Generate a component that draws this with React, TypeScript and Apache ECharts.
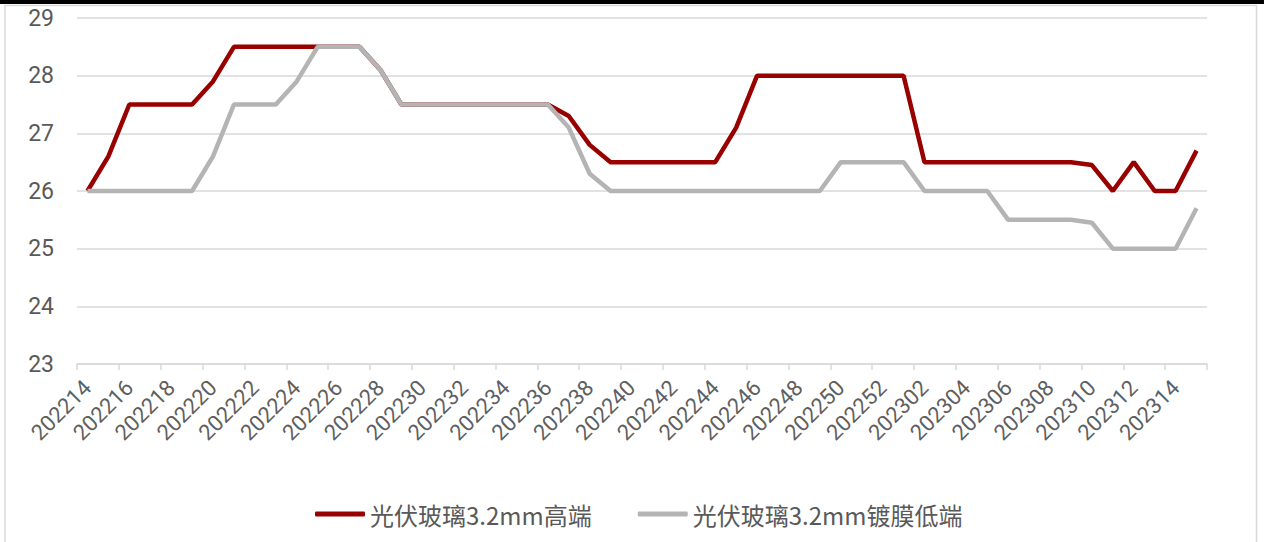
import React, { useEffect, useRef } from "react";
import * as echarts from "echarts";

const weeks = [
  "202214", "202215", "202216", "202217", "202218", "202219", "202220", "202221", "202222", "202223",
  "202224", "202225", "202226", "202227", "202228", "202229", "202230", "202231", "202232", "202233",
  "202234", "202235", "202236", "202237", "202238", "202239", "202240", "202241", "202242", "202243",
  "202244", "202245", "202246", "202247", "202248", "202249", "202250", "202251", "202252",
  "202301", "202302", "202303", "202304", "202305", "202306", "202307", "202308", "202309", "202310",
  "202311", "202312", "202313", "202314", "202315",
];

const seriesNames = ["光伏玻璃3.2mm高端", "光伏玻璃3.2mm镀膜低端"];

const highEnd = [
  26.0, 26.6, 27.5, 27.5, 27.5, 27.5, 27.9, 28.5, 28.5, 28.5,
  28.5, 28.5, 28.5, 28.5, 28.1, 27.5, 27.5, 27.5, 27.5, 27.5,
  27.5, 27.5, 27.5, 27.3, 26.8, 26.5, 26.5, 26.5, 26.5, 26.5,
  26.5, 27.1, 28.0, 28.0, 28.0, 28.0, 28.0, 28.0, 28.0,
  28.0, 26.5, 26.5, 26.5, 26.5, 26.5, 26.5, 26.5, 26.5, 26.45,
  26.0, 26.5, 26.0, 26.0, 26.7,
];

const lowEnd = [
  26.0, 26.0, 26.0, 26.0, 26.0, 26.0, 26.6, 27.5, 27.5, 27.5,
  27.9, 28.5, 28.5, 28.5, 28.1, 27.5, 27.5, 27.5, 27.5, 27.5,
  27.5, 27.5, 27.5, 27.1, 26.3, 26.0, 26.0, 26.0, 26.0, 26.0,
  26.0, 26.0, 26.0, 26.0, 26.0, 26.0, 26.5, 26.5, 26.5,
  26.5, 26.0, 26.0, 26.0, 26.0, 25.5, 25.5, 25.5, 25.5, 25.45,
  25.0, 25.0, 25.0, 25.0, 25.7,
];

const yMin = 23;
const yMax = 29;
const yStep = 1;

const colors = ["#990000", "#b4b4b4"];

export default function App() {
  const ref = useRef<HTMLDivElement>(null);

  useEffect(() => {
    const chart = echarts.init(ref.current!, null, { renderer: "svg" });
    chart.setOption({
      animation: false,
      backgroundColor: "#ffffff",
      color: colors,
      graphic: [
        { type: "rect", shape: { x: 0, y: 0, width: 1264, height: 4 }, style: { fill: "#000000" } },
        { type: "line", shape: { x1: 5, y1: 5.5, x2: 1257, y2: 5.5 }, style: { stroke: "#d9d9d9", lineWidth: 1.5 } },
        { type: "line", shape: { x1: 5, y1: 5, x2: 5, y2: 542 }, style: { stroke: "#d9d9d9", lineWidth: 1.5 } },
        { type: "line", shape: { x1: 1256.5, y1: 5, x2: 1256.5, y2: 542 }, style: { stroke: "#d9d9d9", lineWidth: 1.5 } },
      ],
      grid: { left: 77, right: 57, top: 18, bottom: 178, containLabel: false },
      legend: {
        left: 310,
        top: 497,
        itemWidth: 50,
        itemHeight: 5,
        itemGap: 46,
        icon: "roundRect",
        textStyle: { fontSize: 24, color: "#595959", fontFamily: "Noto Sans CJK SC" },
        data: seriesNames,
      },
      xAxis: {
        type: "category",
        data: weeks,
        boundaryGap: true,
        axisLine: { lineStyle: { color: "#d9d9d9", width: 1.5 } },
        axisTick: { show: true, length: 6, lineStyle: { color: "#d9d9d9", width: 1.5 } },
        axisLabel: {
          interval: 1,
          rotate: 45,
          margin: 20,
          fontSize: 22,
          color: "#5f5f5f",
          fontFamily: "Roboto",
        },
      },
      yAxis: {
        type: "value",
        min: yMin,
        max: yMax,
        interval: yStep,
        axisLine: { show: false },
        axisTick: { show: false },
        axisLabel: { fontSize: 23, color: "#595959", margin: 23, fontFamily: "Roboto" },
        splitLine: { lineStyle: { color: "#d9d9d9", width: 1.5 } },
      },
      series: [
        {
          name: seriesNames[0],
          type: "line",
          data: highEnd,
          symbol: "none",
          lineStyle: { width: 4.5, color: colors[0] },
          itemStyle: { color: colors[0] },
        },
        {
          name: seriesNames[1],
          type: "line",
          data: lowEnd,
          symbol: "none",
          lineStyle: { width: 4.5, color: colors[1] },
          itemStyle: { color: colors[1] },
        },
      ],
    });
    return () => chart.dispose();
  }, []);

  return (
    <div
      ref={ref}
      style={{ position: "fixed", left: 0, top: 0, width: 1264, height: 542, background: "#ffffff" }}
    />
  );
}
